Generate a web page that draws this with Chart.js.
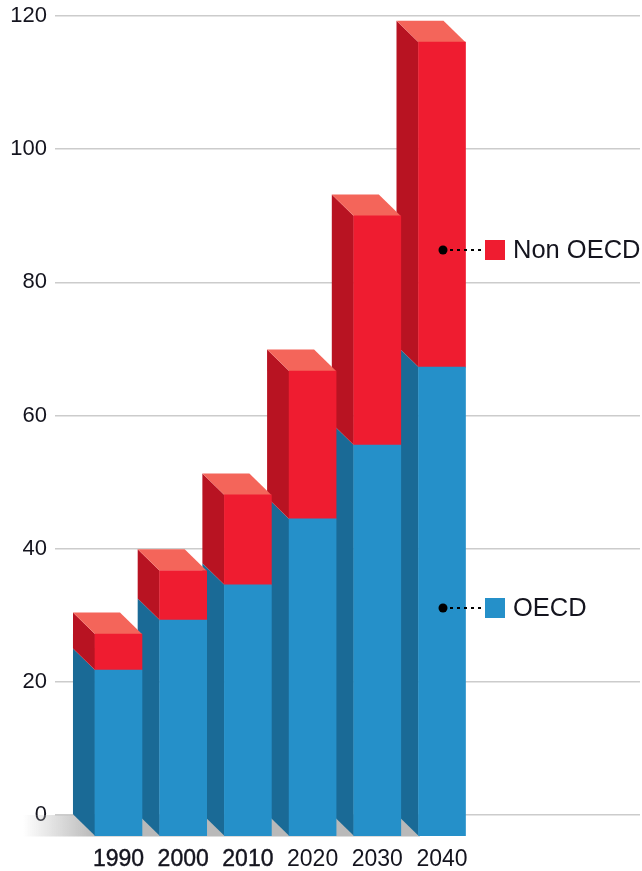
<!DOCTYPE html>
<html>
<head>
<meta charset="utf-8">
<title>OECD / Non OECD</title>
<script src="https://cdn.jsdelivr.net/npm/chart.js@4"></script>
<style>
  html, body { margin: 0; padding: 0; background: #fff; }
  canvas { display: block; }
</style>
</head>
<body>
<canvas id="grafico" width="642" height="871"></canvas>
<script>
const anos = [1990, 2000, 2010, 2020, 2030, 2040];
const oecd = [25.0, 32.5, 37.8, 47.7, 58.8, 70.5];
const nonOecd = [5.4, 7.4, 13.5, 22.2, 34.4, 48.8];
const marcasY = [0, 20, 40, 60, 80, 100, 120];

const FONTE = '"Liberation Sans", Arial, sans-serif';
// profundidade do efeito 3D
const DX = 22, DY = 21.5;

const cores = {
  azul: '#2590C9', azulLado: '#1A6A96',
  vermelho: '#EF1C30', vermelhoLado: '#B81322', vermelhoTopo: '#F4655A'
};

function poligono(ctx, pontos, cor) {
  ctx.fillStyle = cor;
  ctx.beginPath();
  pontos.forEach((p, i) => i ? ctx.lineTo(p[0], p[1]) : ctx.moveTo(p[0], p[1]));
  ctx.closePath();
  ctx.fill();
}

// Chão, laterais e topo das barras; depois desloca as faces frontais
const barras3d = {
  id: 'barras3d',
  beforeDatasetsDraw(chart) {
    const ctx = chart.ctx;
    const base = chart.scales.y.getPixelForValue(0);
    const m0 = chart.getDatasetMeta(0).data;
    const m1 = chart.getDatasetMeta(1).data;
    const esq = m0[0].x - m0[0].width / 2;
    const dir = m0[m0.length - 1].x;

    const grad = ctx.createLinearGradient(esq - 50, 0, esq + DX, 0);
    grad.addColorStop(0, 'rgba(185,185,185,0)');
    grad.addColorStop(1, 'rgba(185,185,185,1)');
    ctx.fillStyle = grad;
    ctx.fillRect(esq - 50, base, dir - esq + 50, DY);

    [[m0, cores.azulLado], [m1, cores.vermelhoLado]].forEach(([barras, cor]) => {
      barras.forEach(b => {
        const x = b.x - b.width / 2;
        poligono(ctx, [[x, b.y], [x + DX, b.y + DY], [x + DX, b.base + DY], [x, b.base]], cor);
      });
    });
    m1.forEach(b => {
      const x = b.x - b.width / 2;
      poligono(ctx, [[x, b.y], [x + b.width, b.y], [x + b.width + DX, b.y + DY], [x + DX, b.y + DY]], cores.vermelhoTopo);
    });

    ctx.save();
    ctx.translate(DX, DY);
  },
  afterDatasetsDraw(chart) {
    chart.ctx.restore();
  }
};

// Legenda presa à barra de 2040
const legendaLateral = {
  id: 'legendaLateral',
  afterDraw(chart) {
    const ctx = chart.ctx;
    const xPonto = chart.scales.x.getPixelForValue(anos[anos.length - 1]) + DX + 1;
    [[250, 1, cores.vermelho], [608, 0, cores.azul]].forEach(([y, i, cor]) => {
      ctx.fillStyle = '#000';
      ctx.beginPath();
      ctx.arc(xPonto, y, 4.5, 0, Math.PI * 2);
      ctx.fill();

      ctx.strokeStyle = '#000';
      ctx.lineWidth = 2;
      ctx.setLineDash([3, 4]);
      ctx.beginPath();
      ctx.moveTo(xPonto + 7, y);
      ctx.lineTo(483, y);
      ctx.stroke();
      ctx.setLineDash([]);

      ctx.fillStyle = cor;
      ctx.fillRect(485, y - 10, 20, 20);

      ctx.fillStyle = '#14141e';
      ctx.font = '25.5px ' + FONTE;
      ctx.textAlign = 'left';
      ctx.textBaseline = 'middle';
      ctx.fillText(chart.data.datasets[i].label, 513, y + 1);
    });
  }
};

new Chart(document.getElementById('grafico'), {
  type: 'bar',
  data: {
    labels: anos,
    datasets: [
      { label: 'OECD', data: oecd, backgroundColor: cores.azul, clip: false },
      { label: 'Non OECD', data: nonOecd, backgroundColor: cores.vermelho, clip: false }
    ]
  },
  plugins: [barras3d, legendaLateral],
  options: {
    responsive: false,
    animation: false,
    barThickness: 47,
    layout: { padding: { top: 16, right: 2 } },
    plugins: { legend: { display: false }, tooltip: { enabled: false } },
    scales: {
      x: {
        type: 'linear',
        offset: false,
        stacked: true,
        min: 1983.59,
        max: 2074,
        afterFit: s => { s.height = 56; s.paddingLeft = 0; s.paddingRight = 0; },
        afterBuildTicks: s => { s.ticks = anos.map(v => ({ value: v })); },
        grid: { display: false, drawTicks: false },
        border: { display: false },
        ticks: {
          autoSkip: false,
          maxRotation: 0,
          labelOffset: DX,
          padding: 31,
          color: '#14141e',
          font: { family: FONTE, size: 23 },
          // 1990 a 2010 aparecem mais carregados no original
          textStrokeColor: '#14141e',
          textStrokeWidth: c => c.index < 3 ? 0.4 : 0,
          callback: v => String(v)
        }
      },
      y: {
        stacked: true,
        min: 0,
        max: 120,
        afterFit: s => { s.width = 55; s.paddingTop = 0; s.paddingBottom = 0; },
        afterBuildTicks: s => { s.ticks = marcasY.map(v => ({ value: v })); },
        grid: { color: '#cccccc', lineWidth: 1.5, drawTicks: false },
        border: { display: false },
        ticks: {
          padding: 8,
          color: '#14141e',
          font: { family: FONTE, size: 22 }
        }
      }
    }
  }
});
</script>
</body>
</html>
